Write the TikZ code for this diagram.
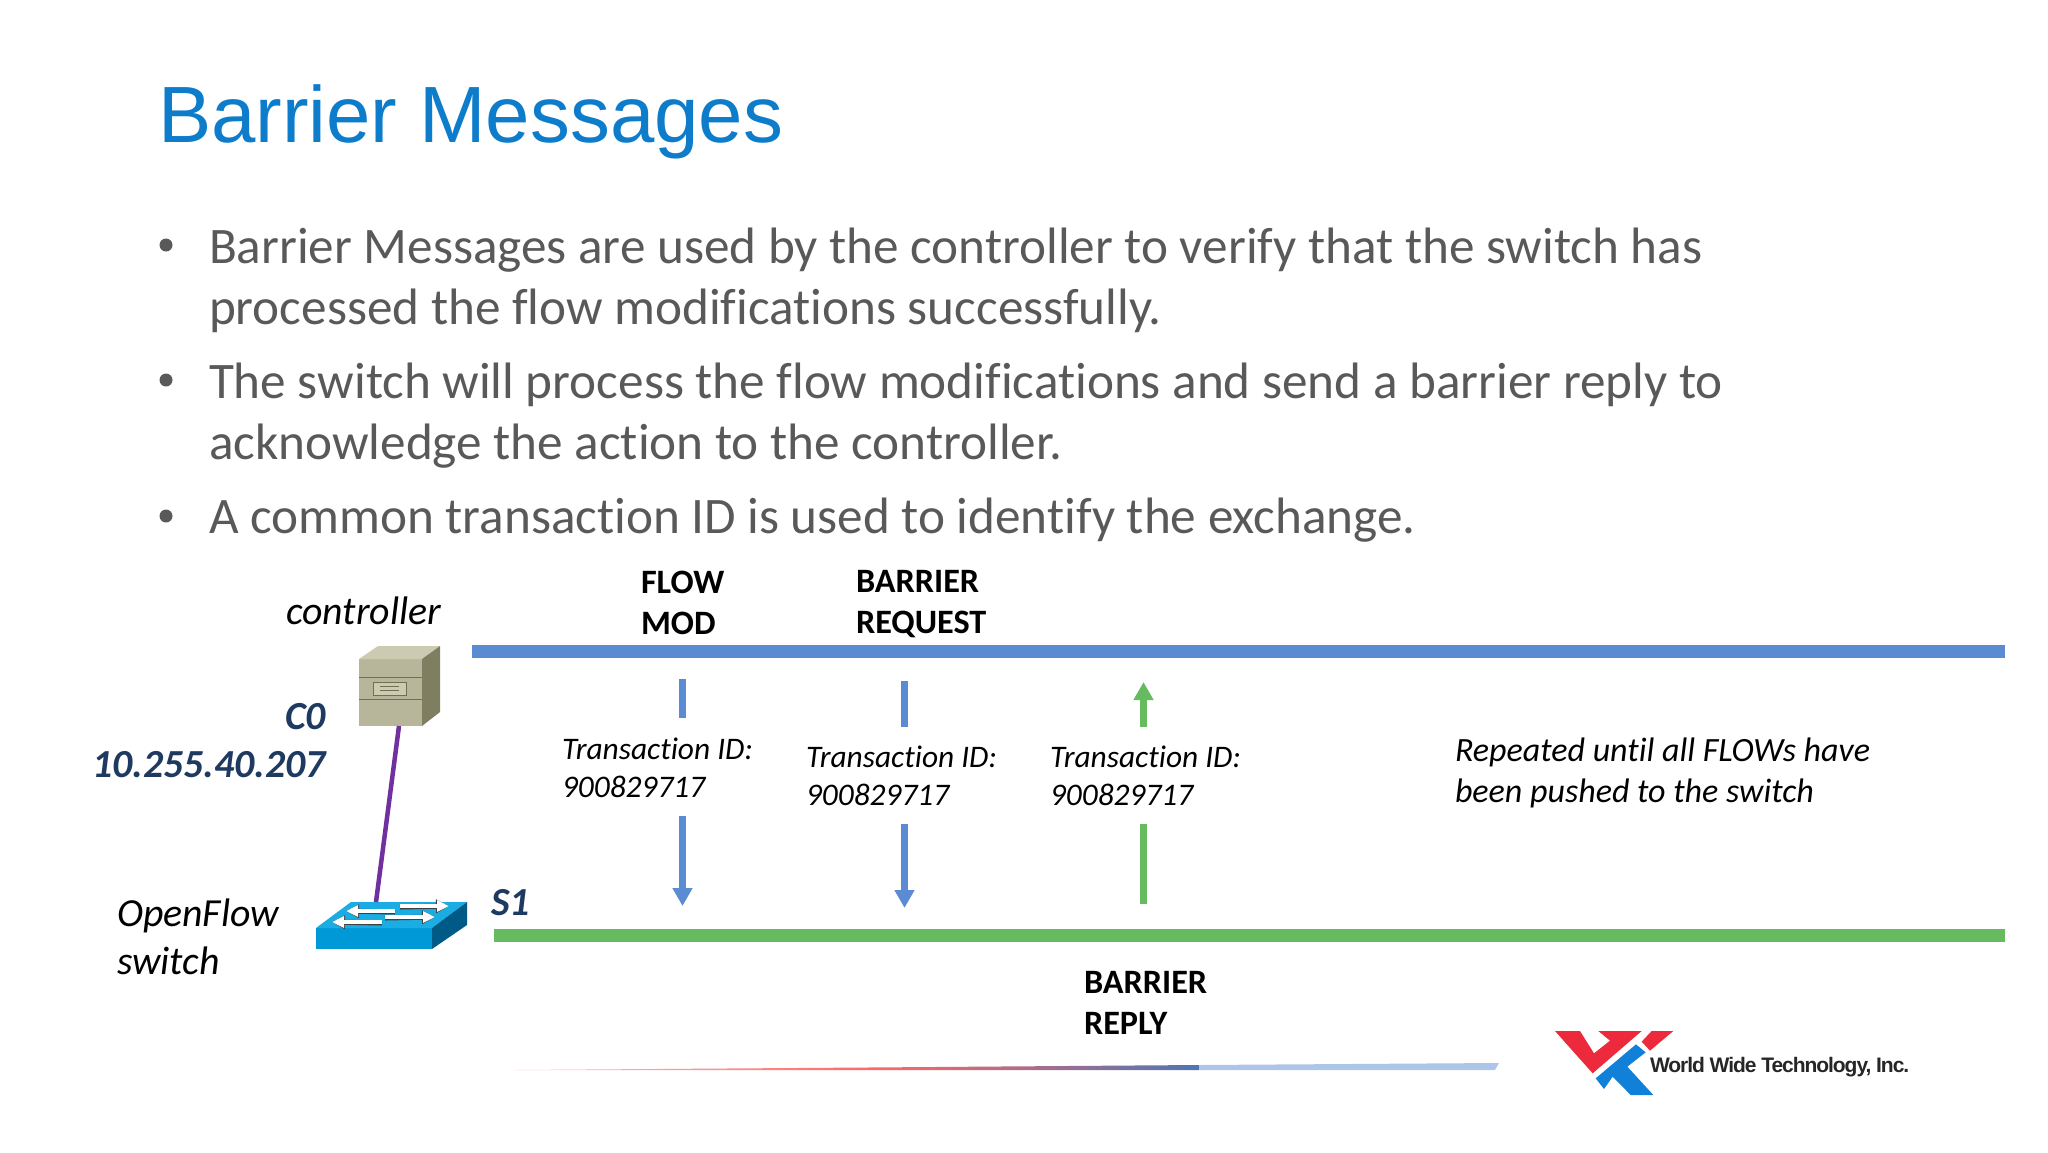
\documentclass[tikz,border=0pt]{standalone}
\usepackage{fontspec}
\setmainfont[Ligatures=NoCommon]{Carlito}
\newfontfamily\titlefont{Liberation Sans}
\usetikzlibrary{arrows.meta,calc,positioning}
\definecolor{titleblue}{HTML}{0D7CCB}
\definecolor{bodygray}{HTML}{595959}
\definecolor{ctrlblue}{HTML}{5B8BD3}
\definecolor{swgreen}{HTML}{66BB5E}
\definecolor{linkpurple}{HTML}{7030A0}
\definecolor{hostnavy}{HTML}{1F3A60}
\definecolor{swfront}{HTML}{0099D8}
\definecolor{swtop}{HTML}{1AADE4}
\definecolor{swside}{HTML}{005A87}
\definecolor{srvfront}{HTML}{B8B69A}
\definecolor{srvtop}{HTML}{CCCBB2}
\definecolor{srvside}{HTML}{7E7E60}
\definecolor{srvline}{HTML}{6F6F55}
\definecolor{logored}{HTML}{EC2A3C}
\definecolor{logoblue}{HTML}{1180D8}
\tikzset{%
        x=1pt,
        y=-1pt,
        every node/.style={inner sep=0pt, outer sep=0pt}
}
\tikzstyle{every edge}=[
    draw = black,
    line cap = butt
]
\tikzstyle{bullet}=[
    anchor = base west,
    align = left,
    text = bodygray,
    font = \fontsize{51.2}{61}\selectfont
]
\tikzstyle{dot}=[
    circle,
    fill = bodygray,
    minimum size = 13pt
]
\tikzstyle{msg}=[
    anchor = base west,
    align = left,
    font = \bfseries\fontsize{34.2}{41}\selectfont
]
\tikzstyle{note}=[
    anchor = base west,
    align = left,
    font = \itshape\fontsize{31.4}{38}\selectfont
]
\tikzstyle{role}=[
    anchor = base west,
    align = left,
    font = \itshape\fontsize{39.8}{48}\selectfont
]
\tikzstyle{host}=[
    anchor = base east,
    text = hostnavy,
    font = \bfseries\itshape\fontsize{39.8}{48}\selectfont
]
\tikzstyle{bus}=[
    line width = 13pt
]
\tikzstyle{down}=[
    ctrlblue,
    draw = ctrlblue,
    line width = 6.5pt
]
\tikzstyle{up}=[
    swgreen,
    draw = swgreen,
    line width = 6.5pt
]
\tikzstyle{tip}=[
    -{Triangle[length=18pt,width=19pt]}
]
\tikzstyle{swarrow}=[
    draw = white,
    line width = 4pt,
    -{Triangle[length=12pt,width=11pt]}
]
\tikzstyle{swshadow}=[
    draw = black!75,
    line width = 5pt,
    yshift = -1pt,
    -{Triangle[length=13pt,width=13pt]}
]
\begin{document}
\begin{tikzpicture}
        \useasboundingbox (0,0) rectangle (2048,1152);
        \node[anchor=base west, text=titleblue, font=\titlefont\fontsize{79.8}{90}\selectfont] (title) at (158,142) {Barrier Messages};
        \node[dot] (b1) at (166,245) {};
        \node[bullet] (t1) at (209,324) {Barrier Messages are used by the controller to verify that the switch has\\processed the flow modifications successfully.};
        \node[dot] (b2) at (166,380) {};
        \node[bullet] (t2) at (209,459) {The switch will process the flow modifications and send a barrier reply to\\acknowledge the action to the controller.};
        \node[dot] (b3) at (166,516) {};
        \node[bullet] (t3) at (209,533) {A common transaction ID is used to identify the exchange.};
        \node[msg] (flow) at (641,634) {FLOW\\MOD};
        \node[msg] (barrier) at (856,633) {BARRIER\\REQUEST};
        \node[msg] (reply) at (1084,1034) {BARRIER\\REPLY};
        \node[note] (id1) at (562,797) {Transaction ID:\\900829717};
        \node[note] (id2) at (806,805) {Transaction ID:\\900829717};
        \node[note] (id3) at (1050,805) {Transaction ID:\\900829717};
        \node[note, font=\itshape\fontsize{34}{41}\selectfont] (again) at (1455,802) {Repeated until all FLOWs have\\been pushed to the switch};
        \node[role] (ctrl) at (286,624) {controller};
        \node[role] (ofsw) at (117,974) {OpenFlow\\switch};
        \node[host] (c0) at (326,729) {C0};
        \node[host] (ip) at (326,777) {10.255.40.207};
        \node[host, anchor=base west] (s1) at (491,915) {S1};

        \coordinate (cl) at (472,651);
        \coordinate (cr) at (2005,651);
        \coordinate (sl) at (494,935);
        \coordinate (sr) at (2005,935);
        \coordinate (a1) at (682.5,679);
        \coordinate (a2) at (682.5,718);
        \coordinate (a3) at (682.5,816);
        \coordinate (a4) at (682.5,906);
        \coordinate (r1) at (904.5,681);
        \coordinate (r2) at (904.5,727);
        \coordinate (r3) at (904.5,824);
        \coordinate (r4) at (904.5,908);
        \coordinate (g1) at (1143.5,682);
        \coordinate (g2) at (1143.5,727);
        \coordinate (g3) at (1143.5,824);
        \coordinate (g4) at (1143.5,904);
        \coordinate (c0port) at (399,726);
        \coordinate (s1port) at (376,902);
      \path
      (cl) edge[bus, draw=ctrlblue] (cr)
      (sl) edge[bus, draw=swgreen] (sr)
      (a1) edge[down] (a2)
      (a3) edge[down, tip] (a4)
      (r1) edge[down] (r2)
      (r3) edge[down, tip] (r4)
      (g2) edge[up, tip] (g1)
      (g4) edge[up] (g3)
      ;

        \fill[srvfront] (359,659) rectangle (422,726);
        \fill[srvtop] (359,659) -- (378,646) -- (440,646) -- (422,659) -- cycle;
        \fill[srvside] (422,659) -- (440,646) -- (440,712) -- (422,726) -- cycle;
        \draw[srvline, line width=1pt] (359,677) -- (422,677) (359,699) -- (422,699);
        \draw[srvline, line width=1pt, fill=srvtop] (373,682) rectangle (406,695);
        \draw[srvline, line width=1pt] (380,686) -- (399,686) (380,690) -- (399,690);

        \fill[swfront] (316,928) rectangle (432,949);
        \fill[swtop] (316,928) -- (351,902) -- (467,902) -- (432,928) -- cycle;
        \fill[swside] (432,928) -- (467,902) -- (467,925) -- (432,949) -- cycle;
        \coordinate (w1) at (395,911);
        \coordinate (w2) at (346,911);
        \coordinate (w3) at (400,906);
        \coordinate (w4) at (449,906);
        \coordinate (w5) at (382,922);
        \coordinate (w6) at (332,922);
        \coordinate (w7) at (385,917);
        \coordinate (w8) at (435,917);
      \path
      (w1) edge[swshadow] (w2)
      (w1) edge[swarrow] (w2)
      (w3) edge[swshadow] (w4)
      (w3) edge[swarrow] (w4)
      (w5) edge[swshadow] (w6)
      (w5) edge[swarrow] (w6)
      (w7) edge[swshadow] (w8)
      (w7) edge[swarrow] (w8)
      ;
        \draw[linkpurple, line width=4.5pt] (c0port) -- (s1port);

        \shade[left color=red!25, right color=red!60] (513,1070) -- (880,1067.4) -- (880,1070) -- cycle;
        \shade[left color=red!60, right color=ctrlblue!85!black] (880,1067.4) -- (1199,1065) -- (1199,1070) -- (880,1070) -- cycle;
        \fill[ctrlblue!50] (1199,1065) -- (1499,1063) -- (1495,1070) -- (1199,1070) -- cycle;

        \begin{scope}[shift={(1530,1010)},x=0.3333pt,y=-0.3333pt]
        \fill[logored] (75,63) -- (150,63) -- (192,130) -- (240,92) -- (205,63) -- (335,63) -- (188,190) -- cycle;
        \fill[logored] (365,63) -- (430,63) -- (360,122) -- (335,95) -- cycle;
        \fill[logoblue] (318,103) -- (347,127) -- (292,170) -- (370,255) -- (302,255) -- (248,200) -- (222,237) -- (197,205) -- cycle;
        \end{scope}
        \node[anchor=base west, text=black!85, font=\titlefont\bfseries\fontsize{21}{25}\selectfont\addfontfeature{LetterSpace=-5}] (wwt) at (1650,1072) {World Wide Technology, Inc.};
\end{tikzpicture}
\end{document}
